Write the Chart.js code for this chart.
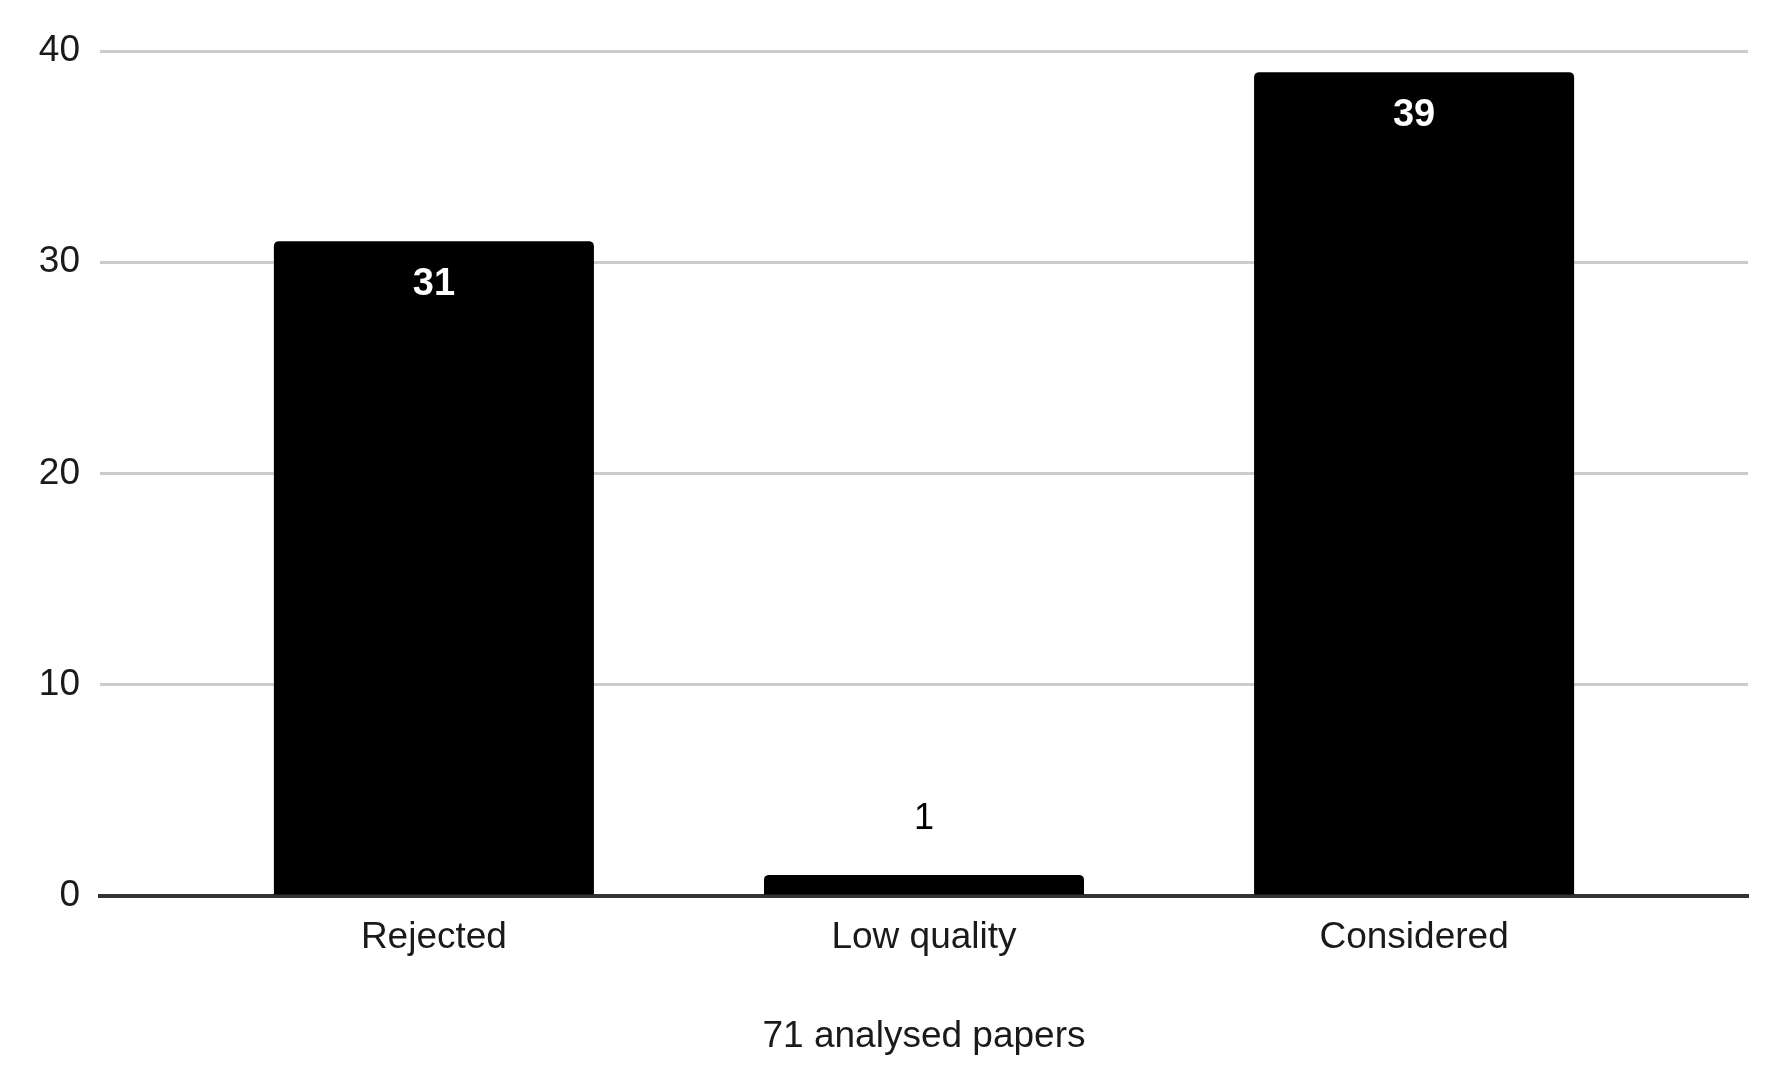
<!DOCTYPE html>
<html>
<head>
<meta charset="utf-8">
<style>
  html, body { margin: 0; padding: 0; background: #ffffff; }
  #wrap { width: 1765px; height: 1069px; }
</style>
<script src="https://cdn.jsdelivr.net/npm/chart.js@4"></script>
</head>
<body>
<div id="wrap"><canvas id="c" width="1765" height="1069"></canvas></div>
<script>
const categories = ['Rejected', 'Low quality', 'Considered'];
const values = [31, 1, 39];
const yTicks = [0, 10, 20, 30, 40];
const xTitle = '71 analysed papers';

const FONT = '"Liberation Sans", Arial, sans-serif';

const valueLabels = {
  id: 'valueLabels',
  afterDatasetsDraw(chart) {
    const ctx = chart.ctx;
    const meta = chart.getDatasetMeta(0);
    meta.data.forEach((bar, i) => {
      const h = bar.base - bar.y;
      ctx.save();
      ctx.textAlign = 'center';
      ctx.textBaseline = 'alphabetic';
      if (h > 80) {
        ctx.fillStyle = '#ffffff';
        ctx.font = 'bold 38px ' + FONT;
        ctx.fillText(String(values[i]), bar.x, bar.y + 53.5);
      } else {
        ctx.fillStyle = '#000000';
        ctx.font = '36px ' + FONT;
        ctx.fillText(String(values[i]), bar.x, bar.y - 46);
      }
      ctx.restore();
    });
  }
};

new Chart(document.getElementById('c'), {
  type: 'bar',
  data: {
    datasets: [{
      data: categories.map((c, i) => ({ x: i, y: values[i] })),
      backgroundColor: '#000000',
      borderRadius: 5,
      borderSkipped: 'start',
      barPercentage: 0.653,
      categoryPercentage: 1
    }]
  },
  options: {
    responsive: false,
    animation: false,
    layout: { padding: { top: 51, right: 17, bottom: 0, left: 0 } },
    plugins: { legend: { display: false }, tooltip: { enabled: false } },
    scales: {
      x: {
        type: 'linear',
        offset: false,
        min: -0.6813,
        max: 2.6813,
        grid: { display: false, drawTicks: false, offset: false },
        border: { display: true, color: '#333333', width: 4 },
        afterBuildTicks: (s) => { s.ticks = categories.map((c, i) => ({ value: i })); },
        afterFit: (s) => { s.height = 173; },
        ticks: {
          autoSkip: false,
          maxRotation: 0,
          padding: 19.5,
          color: '#1a1a1a',
          font: { family: FONT, size: 37 },
          callback: (v) => (categories[v] !== undefined ? categories[v] : '')
        },
        title: {
          display: true,
          text: xTitle,
          color: '#1a1a1a',
          font: { family: FONT, size: 37 },
          padding: { top: 0, bottom: 10.5 }
        }
      },
      y: {
        min: 0,
        max: 40,
        afterBuildTicks: (s) => { s.ticks = yTicks.map(v => ({ value: v })); },
        afterFit: (s) => { s.width = 100; },
        grid: {
          drawTicks: false,
          lineWidth: 3,
          color: (ctx) => (ctx.tick && ctx.tick.value === 0 ? 'rgba(0,0,0,0)' : '#cccccc')
        },
        border: { display: false },
        ticks: {
          padding: 20,
          color: '#1a1a1a',
          font: { family: FONT, size: 37 }
        }
      }
    }
  },
  plugins: [valueLabels]
});
</script>
</body>
</html>
